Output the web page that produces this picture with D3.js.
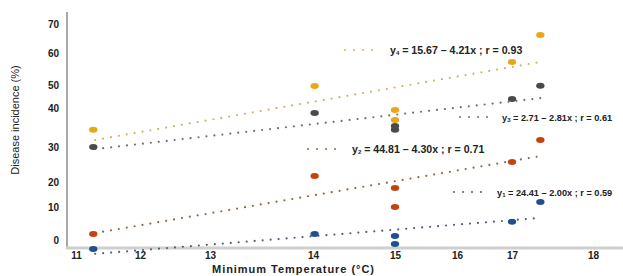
<!DOCTYPE html>
<html>
<head>
<meta charset="utf-8">
<script src="https://cdn.jsdelivr.net/npm/d3@7"></script>
<style>
  body { margin: 0; background: #fff; }
  svg { display: block; }
  text { font-family: "Liberation Sans", Arial, sans-serif; fill: #222; }
</style>
</head>
<body>
<svg id="chart" width="623" height="276"></svg>
<script>
// tick values (the picture's axes are not evenly spaced)
const xTicks = [11, 12, 13, 14, 15, 16, 17, 18];
const yTicks = [0, 10, 20, 30, 40, 50, 60, 70];

// observed points per series, [temperature, incidence]
const y1Points = [[11.27, -2.7], [14.02, 1.8], [15, 1.2], [15, -1.2], [17, 5.5], [17.35, 12]];
const y2Points = [[11.27, 1.8], [14.02, 21.7], [15, 17.6], [15, 10], [17, 25.7], [17.35, 31.8]];
const y3Points = [[11.27, 30], [14.02, 38.7], [15, 35.4], [15, 34.4], [17, 43.9], [17.35, 49.7]];
const y4Points = [[11.27, 34.4], [14.02, 49.6], [15, 39.5], [15, 36.9], [17, 57.2], [17.35, 66.2]];

// fitted lines, start / end
const trendX = [11.3, 17.35];
const y1Trend = [-4.2, 6.7];
const y2Trend = [2.1, 27.4];
const y3Trend = [29.4, 44.3];
const y4Trend = [31.8, 57.2];

const equations = [
  {sub: "4", txt: " = 15.67 \u2013 4.21x ; r = 0.93"},
  {sub: "3", txt: " = 2.71 \u2013 2.81x ; r = 0.61"},
  {sub: "2", txt: " = 44.81 \u2013 4.30x ; r = 0.71"},
  {sub: "1", txt: " = 24.41 \u2013 2.00x ; r = 0.59"}
];

const svg = d3.select("#chart");

// piecewise scales so the ticks land where the original put them
const x = d3.scaleLinear()
    .domain(xTicks)
    .range([76, 140, 210, 313, 395, 457, 512, 593]);
const y = d3.scaleLinear()
    .domain(yTicks)
    .range([240, 207, 182, 147, 108, 85, 53, 24]);

// axis lines
svg.append("line")
    .attr("x1", 67).attr("x2", 67).attr("y1", 12).attr("y2", 248)
    .attr("stroke", "#a8a8a8").attr("stroke-width", 2);
svg.append("line")
    .attr("x1", 66).attr("x2", 623).attr("y1", 248).attr("y2", 248)
    .attr("stroke", "#cfcfcf").attr("stroke-width", 3);

// y axis labels
const yAxis = svg.append("g")
    .attr("transform", "translate(59,0)")
    .call(d3.axisLeft(y).tickValues(yTicks).tickSize(0).tickPadding(0).tickFormat(d3.format("d")));
yAxis.select(".domain").remove();
yAxis.selectAll("text")
    .attr("font-size", 10).attr("font-weight", "bold")
    .attr("font-family", "Liberation Sans, Arial, sans-serif")
    .attr("fill", "#222");

// x axis labels
const xAxis = svg.append("g")
    .attr("transform", "translate(0,252)")
    .call(d3.axisBottom(x).tickValues(xTicks).tickSize(0).tickPadding(0).tickFormat(d3.format("d")));
xAxis.select(".domain").remove();
xAxis.selectAll("text")
    .attr("font-size", 10).attr("font-weight", "bold")
    .attr("font-family", "Liberation Sans, Arial, sans-serif")
    .attr("fill", "#222");

// axis titles
svg.append("text")
    .attr("transform", "translate(19,120) rotate(-90)")
    .attr("text-anchor", "middle")
    .attr("font-size", 11)
    .text("Disease incidence (%)");

svg.append("text")
    .attr("x", 293).attr("y", 273)
    .attr("text-anchor", "middle")
    .attr("font-size", 11).attr("font-weight", "bold")
    .attr("textLength", 162)
    .text("Minimum Temperature (\u00b0C)");

const series = [
  {pts: y1Points, trend: y1Trend, fill: "#1f4f8f", dot: "#4e6078"},
  {pts: y2Points, trend: y2Trend, fill: "#c4420f", dot: "#8a6a48"},
  {pts: y3Points, trend: y3Trend, fill: "#4a4a4a", dot: "#707070"},
  {pts: y4Points, trend: y4Trend, fill: "#e9a615", dot: "#cbb563"}
];

// dotted fitted lines
svg.append("g").selectAll("line")
  .data(series)
  .join("line")
    .attr("x1", x(trendX[0])).attr("x2", x(trendX[1]))
    .attr("y1", d => y(d.trend[0])).attr("y2", d => y(d.trend[1]))
    .attr("stroke", d => d.dot)
    .attr("stroke-width", 2.2)
    .attr("stroke-linecap", "round")
    .attr("stroke-dasharray", "0,8");

// points
svg.append("g").selectAll("g")
  .data(series)
  .join("g")
    .attr("fill", d => d.fill)
  .selectAll("ellipse")
  .data(d => d.pts)
  .join("ellipse")
    .attr("cx", d => x(d[0]))
    .attr("cy", d => y(d[1]))
    .attr("rx", 4.2).attr("ry", 3);

// equation labels (y4, y3, y2, y1): dots start, line y, text x, font size
const eqPos = [[345, 50, 390, 10.6], [460, 117, 502, 9.2], [308, 149, 352, 10.6], [454, 192, 497, 9.2]];
const eqDot = [series[3].dot, series[2].dot, series[1].dot, series[0].dot];

const eqG = svg.append("g").selectAll("g")
  .data(equations)
  .join("g");

eqG.append("line")
    .attr("x1", (d, i) => eqPos[i][0]).attr("x2", (d, i) => eqPos[i][0] + 36)
    .attr("y1", (d, i) => eqPos[i][1]).attr("y2", (d, i) => eqPos[i][1])
    .attr("stroke", (d, i) => eqDot[i])
    .attr("stroke-width", 2)
    .attr("stroke-linecap", "round")
    .attr("stroke-dasharray", "0,9");

const eqText = eqG.append("text")
    .attr("x", (d, i) => eqPos[i][2])
    .attr("y", (d, i) => eqPos[i][1] + 3.5)
    .attr("font-size", (d, i) => eqPos[i][3])
    .attr("font-weight", "bold");
eqText.append("tspan").text("y");
eqText.append("tspan").attr("font-size", 6).attr("dy", 1.5).text(d => d.sub);
eqText.append("tspan").attr("dy", -1.5).text(d => d.txt);
</script>
</body>
</html>
